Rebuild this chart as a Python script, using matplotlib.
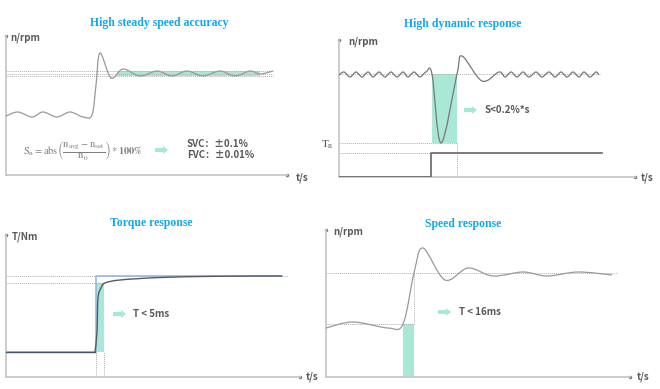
import matplotlib
matplotlib.use("Agg")
import matplotlib.pyplot as plt
from matplotlib.path import Path
from matplotlib.patches import PathPatch, FancyArrow, Rectangle

plt.rcParams["mathtext.fontset"] = "stix"

# ---- data (arbitrary units) ----
# steady speed accuracy
acc_t = [0, 12, 26, 37, 51, 64, 77, 86, 90, 94, 105, 117, 134, 151, 166, 181, 197, 214, 229, 244, 254, 267]
acc_n = [59, 63, 58, 63, 58, 63, 58, 60, 90, 122, 97, 106, 99, 104, 99, 104, 99, 104, 99, 104, 101, 104]
acc_band = (111, 254, 99, 104)
acc_levels = [104, 101.5, 99]

# dynamic response
dyn_t = [0, 5, 11, 17, 23, 29, 34, 40, 46, 52, 58, 64, 69, 75, 81, 87, 93, 102, 118, 123, 143,
         160, 166, 172, 178, 184, 190, 197, 203, 210, 216, 222, 228, 234, 240, 245, 251, 257, 260]
dyn_n = [102, 105, 100, 105, 100, 105, 100, 105, 100, 105, 100, 105, 100, 105, 100, 105, 103, 34, 103, 121, 96,
         105, 100, 105, 100, 105, 100, 105, 100, 105, 100, 105, 100, 105, 100, 105, 100, 105, 102]
dyn_load_t = [0, 92, 92, 263]
dyn_load = [0, 0, 24, 24]
dyn_band = (93, 118, 34, 103)

# torque response
trq_ref_t = [0, 90, 90, 276]
trq_ref = [25, 25, 101, 101]
trq_t = [89, 91, 92, 95, 99, 114, 154, 210, 276]
trq = [25, 45, 79, 89, 94, 97, 99.5, 100.7, 101]
trq_band = (90, 98, 25, 94)

# speed response
spd_t = [0, 27, 62, 77, 88, 97, 119, 142, 167, 197, 221, 252, 286]
spd_n = [49, 55, 49, 53, 104, 129, 97, 109, 101, 105, 101, 105, 102]
spd_band = (77, 88, 0, 53)

W, H = 660, 389
GRID = "#c8c8c8"
MINT = "#a9e8d6"
BLUE_T = "#12a8ee"
LAB = "#595959"
SANS = ["Noto Sans CJK SC", "DejaVu Sans"]


def smooth(ax, xs, ys, **kw):
    pts = list(zip(xs, ys))
    verts = [pts[0]]
    codes = [Path.MOVETO]
    n = len(pts)
    for i in range(n - 1):
        p0 = pts[i - 1] if i > 0 else pts[i]
        p1, p2 = pts[i], pts[i + 1]
        p3 = pts[i + 2] if i + 2 < n else pts[i + 1]
        c1 = (p1[0] + (p2[0] - p0[0]) / 6, p1[1] + (p2[1] - p0[1]) / 6)
        c2 = (p2[0] - (p3[0] - p1[0]) / 6, p2[1] - (p3[1] - p1[1]) / 6)
        verts += [c1, c2, p2]
        codes += [Path.CURVE4] * 3
    ax.add_patch(PathPatch(Path(verts, codes), fill=False, **kw))


def panel(left, bottom, w, h):
    ax = fig.add_axes([left / W, (H - bottom) / H, w / W, h / H])
    ax.set_xlim(0, w)
    ax.set_ylim(0, h)
    for s in ["top", "right"]:
        ax.spines[s].set_visible(False)
    for s in ["left", "bottom"]:
        ax.spines[s].set_color(GRID)
        ax.spines[s].set_linewidth(1.3)
    ax.set_xticks([])
    ax.set_yticks([])
    ax.patch.set_alpha(0)
    ax.plot([0], [h], marker="o", ms=1.5, color="#777777", clip_on=False)
    ax.plot([w], [0], marker="o", ms=1.5, color="#777777", clip_on=False)
    return ax


def hline(ax, y, x0, x1):
    ax.plot([x0, x1], [y, y], ls=(0, (1, 1)), lw=0.7, color="#b0b0b0")


def vline(ax, x, y0, y1):
    ax.plot([x, x], [y0, y1], ls=(0, (1, 1)), lw=0.7, color="#b0b0b0")


def band(ax, b):
    ax.add_patch(Rectangle((b[0], b[2]), b[1] - b[0], b[3] - b[2], color=MINT, lw=0, zorder=1))


fig = plt.figure(figsize=(W / 100, H / 100), dpi=100)

# panel 1
a1 = panel(6, 175, 281, 139)
band(a1, acc_band)
for lv in acc_levels:
    hline(a1, lv, 0, 267)
smooth(a1, acc_t, acc_n, color="#999999", lw=0.9, zorder=3)

# panel 2
a2 = panel(339, 177, 296, 137)
band(a2, dyn_band)
hline(a2, 103, 0, 261)
hline(a2, 34, 0, 118)
hline(a2, 24, 0, 92)
vline(a2, 118, 0, 34)
a2.plot(dyn_load_t, dyn_load, color="#666666", lw=1.2, zorder=3)
smooth(a2, dyn_t, dyn_n, color="#777777", lw=0.9, zorder=3)

# panel 3
a3 = panel(6, 377, 294, 142)
band(a3, trq_band)
hline(a3, 101, 0, 281)
hline(a3, 94, 0, 98)
vline(a3, 90, 0, 25)
vline(a3, 98, 0, 25)
a3.plot(trq_ref_t, trq_ref, color="#8eb4e3", lw=1.1, zorder=2)
a3.plot([0, trq_t[0]], [trq[0], trq[0]], color="#44546a", lw=1.0, zorder=3)
smooth(a3, trq_t, trq, color="#555a66", lw=1.0, zorder=3)

# panel 4
a4 = panel(326, 377, 304, 147)
band(a4, spd_band)
hline(a4, 104, 0, 291)
hline(a4, 53, 0, 88)
vline(a4, 88, 53, 104)
smooth(a4, spd_t, spd_n, color="#999999", lw=0.9, zorder=3)

# text overlay in pixel coordinates
ov = fig.add_axes([0, 0, 1, 1])
ov.set_xlim(0, W)
ov.set_ylim(H, 0)
ov.axis("off")
ov.patch.set_alpha(0)

titles = [("High steady speed accuracy", 159, 23), ("High dynamic response", 463, 24),
          ("Torque response", 151, 223), ("Speed response", 463, 224)]
for t, x, y in titles:
    ov.text(x, y, t, ha="center", va="center", family="Liberation Serif", weight="bold",
            fontsize=8.5, color=BLUE_T)

labels = [("n/rpm", 10, 38), ("n/rpm", 348, 42), ("T/Nm", 12, 237), ("n/rpm", 333, 232),
          ("t/s", 296, 178), ("t/s", 641, 178), ("t/s", 306, 377), ("t/s", 637, 377),
          ("SVC：±0.1%", 187, 144), ("FVC：±0.01%", 187, 155),
          ("S<0.2%*s", 485, 110), ("T < 5ms", 133, 314), ("T < 16ms", 459, 312)]
for t, x, y in labels:
    ov.text(x, y, t, ha="left", va="center", family=SANS, weight="bold", fontsize=7, color=LAB)

ov.text(321, 145, r"$\mathrm{T_n}$", ha="left", va="center", fontsize=8, color=LAB)
ov.text(83, 150, r"$\mathrm{S_n = abs}\left(\dfrac{\mathrm{n_{avg} - n_{set}}}{\mathrm{n_0}}\right) * \mathbf{100\%}$",
        ha="center", va="center", fontsize=7.5, color="#7f7f7f")

for x, y in [(155, 150), (464, 110), (113, 314), (438, 312)]:
    ov.add_patch(FancyArrow(x, y, 13, 0, width=4, head_width=8, head_length=5,
                            length_includes_head=True, color=MINT, lw=0))

fig.savefig("out.png", dpi=100)
